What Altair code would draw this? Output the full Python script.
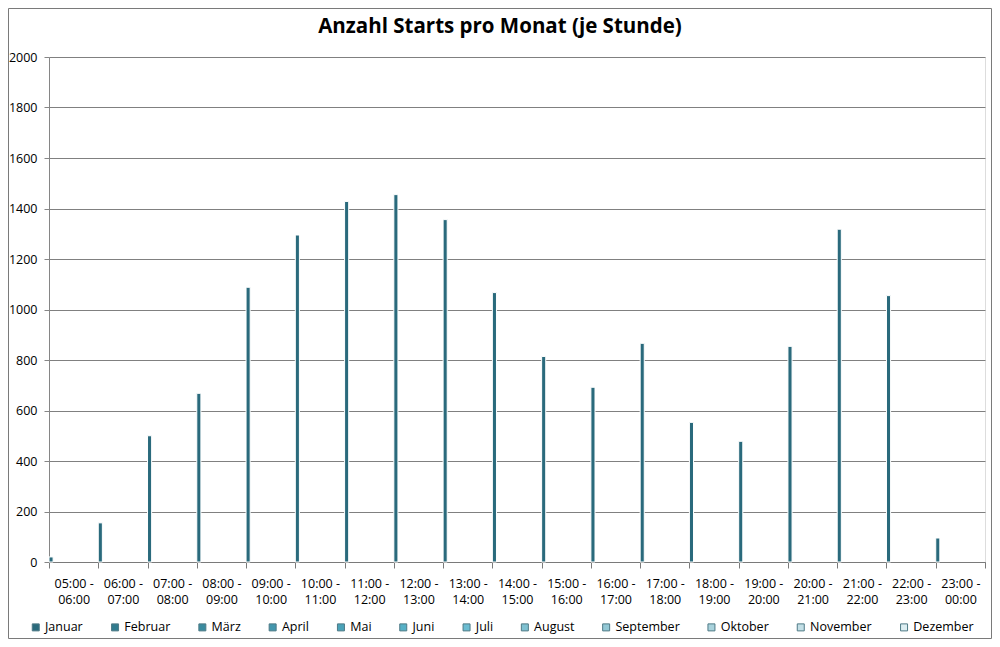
import altair as alt
import pandas as pd

hours = ["05:00 - 06:00", "06:00 - 07:00", "07:00 - 08:00", "08:00 - 09:00",
         "09:00 - 10:00", "10:00 - 11:00", "11:00 - 12:00", "12:00 - 13:00",
         "13:00 - 14:00", "14:00 - 15:00", "15:00 - 16:00", "16:00 - 17:00",
         "17:00 - 18:00", "18:00 - 19:00", "19:00 - 20:00", "20:00 - 21:00",
         "21:00 - 22:00", "22:00 - 23:00", "23:00 - 00:00"]
januar = [20, 155, 500, 668, 1088, 1295, 1428, 1455, 1356, 1067, 814, 692,
          866, 553, 478, 854, 1318, 1055, 95]
months = ["Januar", "Februar", "März", "April", "Mai", "Juni", "Juli",
          "August", "September", "Oktober", "November", "Dezember"]
colors = ["#2a6a7c", "#317b8e", "#3a8b9f", "#4396ad", "#4aa2b8", "#56b0c6",
          "#6bbcd1", "#7fc1d1", "#93c8d5", "#a9d2dc", "#c3dfe6", "#ddeef2"]
y_ticks = [0, 200, 400, 600, 800, 1000, 1200, 1400, 1600, 1800, 2000]
title_text = "Anzahl Starts pro Monat (je Stunde)"

FONT = "Open Sans"
FS = 12.5
W, H = 936, 505
PL, PT = 41, 49
PR = 984 - PL - W
PB = 631 - PT - H

df = pd.DataFrame({"Stunde": hours, "Starts": januar, "Monat": ["Januar"] * len(hours)})
one = pd.DataFrame({"k": [0]})

bars = alt.Chart(df).mark_bar(stroke="white", strokeWidth=1).encode(
    x=alt.X("Stunde:N", sort=hours, title=None,
            scale=alt.Scale(paddingInner=0, paddingOuter=0),
            axis=alt.Axis(labelAngle=0, tickBand="extent", tickSize=6,
                          labelPadding=9, labelLineHeight=16.5,
                          labelFont=FONT, labelFontSize=FS, labelColor="black",
                          labelExpr="[slice(datum.label,0,7), slice(datum.label,8)]",
                          domainColor="#7a7a7a", tickColor="#7a7a7a")),
    xOffset=alt.XOffset("Monat:N", scale=alt.Scale(domain=months, paddingInner=0, paddingOuter=0)),
    y=alt.Y("Starts:Q", title=None, scale=alt.Scale(domain=[0, 2000]),
            axis=alt.Axis(values=y_ticks, format="d", tickSize=5, labelPadding=7,
                          labelFont=FONT, labelFontSize=FS, labelColor="black",
                          domainColor="#868686", tickColor="#868686",
                          gridColor="#808080", grid=True)),
    color=alt.Color("Monat:N", scale=alt.Scale(domain=months, range=colors),
                    legend=alt.Legend(title=None, orient="none", direction="horizontal",
                                      columns=12, columnPadding=25.3, legendX=-19.5, legendY=564,
                                      symbolType="square", symbolSize=49,
                                      symbolStrokeColor="#4f7a86", symbolStrokeWidth=1,
                                      labelFont=FONT, labelFontSize=FS, labelColor="black",
                                      labelOffset=3, padding=0)),
)

border = alt.Chart(one).mark_rect(fillOpacity=0, stroke="#7a7a7a", strokeWidth=1).encode(
    x=alt.value(-PL + 0.5), x2=alt.value(W + PR - 0.5),
    y=alt.value(-PT + 0.5), y2=alt.value(H + PB - 0.5),
)

title = alt.Chart(one).mark_text(text=title_text, font=FONT, fontSize=20.5,
                                 fontWeight="bold", color="black",
                                 align="center", baseline="middle").encode(
    x=alt.value(500 - 8 - PL), y=alt.value(27 - 8 - PT),
)

chart = alt.layer(bars, border, title).properties(
    width=W, height=H,
    autosize=alt.AutoSizeParams(type="none"),
    padding={"left": PL, "top": PT, "right": PR, "bottom": PB},
).configure_view(fill="#e9eff3", stroke="transparent").configure(background="white")

chart.save("out.html", embed_options={"renderer": "svg", "actions": False})
